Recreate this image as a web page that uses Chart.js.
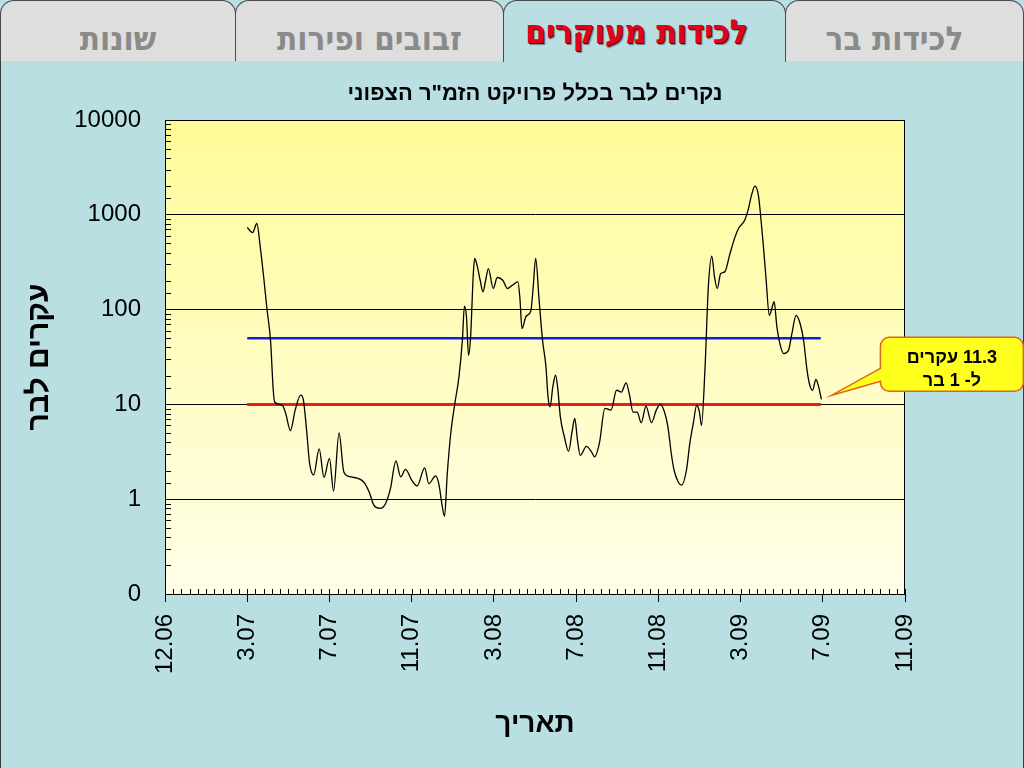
<!DOCTYPE html>
<html lang="he">
<head>
<meta charset="UTF-8">
<title>לכידות מעוקרים</title>
<script src="https://cdn.jsdelivr.net/npm/chart.js"></script>
<style>
    html, body { margin: 0; padding: 0; }
    body {
        width: 1024px; height: 768px; overflow: hidden;
        position: relative; background: #b9dfe3;
        font-family: 'Liberation Sans', Arial, sans-serif;
    }
    .tab {
        position: absolute; top: 0; height: 61px; box-sizing: border-box;
        border: 1px solid #4a4a4a; border-bottom: none;
        border-radius: 14px 14px 0 0;
        background: #dedede; color: #8a8a8a;
        text-align: center;
        font-family: 'DejaVu Sans Condensed', 'DejaVu Sans', sans-serif;
        font-weight: bold; font-size: 33px; line-height: 30px;
        padding-top: 23px;
    }
    .tab.active {
        background: #b9dfe3; color: #e4001b; height: 62px; z-index: 2;
        padding-top: 16px;
        text-shadow: 1px 1px 0 #5a0000, 2px 2px 1px rgba(0,0,0,0.4);
    }
    #panel {
        position: absolute; left: 0; top: 60px; width: 1024px; height: 708px;
        box-sizing: border-box; border: 1px solid #3a3a3a; border-bottom: none;
    }
    #wrap { position: absolute; left: 0; top: 61px; width: 1024px; height: 707px; }
</style>
</head>
<body>
    <div id="panel"></div>
    <div class="tab" style="left:0; width:236px;">שונות</div>
    <div class="tab" style="left:235px; width:269px;">זבובים ופירות</div>
    <div class="tab active" style="left:503px; width:283px; padding-right:16px;">לכידות מעוקרים</div>
    <div class="tab" style="left:785px; width:239px; padding-right:20px;">לכידות בר</div>

    <div id="wrap"><canvas id="chart" dir="rtl"></canvas></div>

    <script>
        // ימים מאז 1.12.06
        const days = [120, 128, 134, 139, 144, 149, 154, 158, 160, 171, 176, 183, 190, 198, 202, 207, 211, 217, 225, 232,
            240, 246, 254, 261, 271, 290, 298, 305, 314, 322, 329, 337, 344, 351, 360, 368, 379, 385, 395, 400,
            404, 408, 412, 417, 423, 429, 434, 437, 440, 443, 446, 450, 452, 456, 460, 464, 468, 472, 479, 485,
            493, 500, 507, 515, 518, 521, 527, 534, 537, 541, 546, 551, 556, 559, 562, 566, 570, 573, 577, 583,
            589, 594, 598, 602, 606, 615, 622, 627, 634, 642, 651, 659, 666, 673, 678, 683, 689, 695, 702, 710,
            717, 723, 729, 734, 739, 743, 749, 754, 761, 766, 771, 776, 780, 783, 788, 793, 798, 802, 806, 811,
            817, 824, 832, 837, 846, 851, 856, 861, 866, 869, 873, 877, 882, 885, 889, 893, 898, 903, 910, 915,
            921, 927, 932, 937, 941, 945, 950, 954, 958];
        // עקרים לבר
        const ratio = [735, 650, 810, 459, 221, 99, 47.5, 14.1, 10.6, 9.8, 8.1, 5.3, 8.7, 12.5, 11.1, 5.0, 2.4, 1.8, 3.4, 1.7,
            2.7, 1.22, 5.0, 1.94, 1.72, 1.52, 1.19, 0.86, 0.80, 0.90, 1.29, 2.54, 1.72, 2.06, 1.59, 1.38, 2.14, 1.46, 1.76, 1.41,
            0.90, 0.66, 1.87, 4.9, 10.2, 19.5, 47.5, 109, 84, 33, 51.5, 240, 346, 282, 204, 154, 204, 271, 167, 218,
            204, 167, 181, 196, 131, 63, 85, 97, 160, 346, 126, 47.5, 24.9, 12.0, 9.4, 15.3, 20.3, 15.3, 7.4, 4.5,
            3.2, 5.1, 7.1, 4.2, 2.9, 3.6, 3.2, 2.8, 3.9, 9.1, 8.7, 14.1, 13.5, 16.9, 12.5, 8.3, 8.3, 6.4, 9.6, 6.4,
            8.7, 10.0, 8.3, 5.8, 3.0, 2.02, 1.52, 1.41, 2.02, 3.9, 6.3, 9.8, 8.3, 6.0, 23, 174, 366, 221, 167, 240,
            250, 375, 585, 717, 877, 1119, 1610, 2004, 1610, 1032, 498, 221, 87, 99, 121, 66, 42, 34.4, 37.3, 56,
            87, 71, 47.5, 23, 16, 14.1, 18.3, 15.3, 11.3];

        // קווי יעד
        const refDays = [120, 957];
        const blueLevel = [50, 50];
        const redLevel = [10, 10];

        const xTickLabels = ['12.06', '3.07', '7.07', '11.07', '3.08', '7.08', '11.08', '3.09', '7.09', '11.09'];
        const xStep = 120, xMinorStep = 12;

        const chartTitle = 'נקרים לבר בכלל פרויקט הזמ"ר הצפוני';
        const calloutLines = ['11.3 עקרים', 'ל- 1 בר'];

        const FONT = "'Liberation Sans', Arial, sans-serif";
        Chart.defaults.font.family = FONT;
        Chart.defaults.color = '#000';

        function isDecade(v) {
            if (!v) return false;
            const l = Math.log10(v);
            return Math.abs(l - Math.round(l)) < 1e-9;
        }

        // רקע, מסגרת, שנתות משנה, כותרת ובועה
        const decor = {
            id: 'decor',
            beforeDraw(chart) {
                const { ctx, chartArea: a } = chart;
                const g = ctx.createLinearGradient(0, a.top, 0, a.bottom);
                g.addColorStop(0, '#fffb98');
                g.addColorStop(1, '#fffee9');
                ctx.save();
                ctx.fillStyle = g;
                ctx.fillRect(a.left, a.top, a.right - a.left, a.bottom - a.top);
                ctx.restore();
            },
            afterDraw(chart) {
                const { ctx, chartArea: a, scales } = chart;
                ctx.save();
                ctx.strokeStyle = '#000';
                ctx.lineWidth = 1;
                ctx.strokeRect(a.left + 0.5, a.top + 0.5, a.right - a.left - 1, a.bottom - a.top);

                ctx.beginPath();
                scales.y.ticks.forEach(t => {
                    if (isDecade(t.value)) return;
                    const py = Math.round(scales.y.getPixelForValue(t.value)) + 0.5;
                    ctx.moveTo(a.left, py);
                    ctx.lineTo(a.left + 6, py);
                });
                for (let d = 0; d <= scales.x.max; d += xMinorStep) {
                    const px = Math.round(scales.x.getPixelForValue(d)) + 0.5;
                    ctx.moveTo(px, a.bottom);
                    ctx.lineTo(px, a.bottom - 5);
                }
                ctx.stroke();

                ctx.direction = 'rtl';
                ctx.fillStyle = '#000';
                ctx.font = 'bold 22px ' + FONT;
                ctx.textAlign = 'center';
                ctx.textBaseline = 'middle';
                ctx.fillText(chartTitle, (a.left + a.right) / 2, a.top - 26);

                // בועה ליד הנקודה האחרונה
                const pts = chart.getDatasetMeta(0).data;
                const last = pts[pts.length - 1];
                const tipX = last.x + 10, tipY = last.y - 4;
                const L = tipX + 49, T = tipY - 58, W = 143, H = 54, r = 9;
                ctx.beginPath();
                ctx.moveTo(L + r, T);
                ctx.arcTo(L + W, T, L + W, T + H, r);
                ctx.arcTo(L + W, T + H, L, T + H, r);
                ctx.arcTo(L, T + H, L, T, r);
                ctx.lineTo(L, T + 44);
                ctx.lineTo(tipX, tipY);
                ctx.lineTo(L, T + 31);
                ctx.arcTo(L, T, L + W, T, r);
                ctx.closePath();
                ctx.fillStyle = '#ffff1e';
                ctx.fill();
                ctx.strokeStyle = '#e0641e';
                ctx.lineWidth = 1.5;
                ctx.stroke();
                ctx.fillStyle = '#000';
                ctx.font = 'bold 18px ' + FONT;
                ctx.fillText(calloutLines[0], L + W / 2, T + 21);
                ctx.fillText(calloutLines[1], L + W / 2, T + 44);
                ctx.restore();
            }
        };

        new Chart(document.getElementById('chart'), {
            type: 'line',
            data: {
                datasets: [
                    {
                        data: days.map((d, i) => ({ x: d, y: ratio[i] })),
                        borderColor: '#000',
                        borderWidth: 1.3,
                        pointRadius: 0,
                        cubicInterpolationMode: 'monotone',
                        order: 0
                    },
                    {
                        data: refDays.map((d, i) => ({ x: d, y: blueLevel[i] })),
                        borderColor: '#1020dc',
                        borderWidth: 2.5,
                        pointRadius: 0,
                        order: 1
                    },
                    {
                        data: refDays.map((d, i) => ({ x: d, y: redLevel[i] })),
                        borderColor: '#ec1c1c',
                        borderWidth: 3,
                        pointRadius: 0,
                        order: 1
                    }
                ]
            },
            options: {
                responsive: true,
                maintainAspectRatio: false,
                animation: false,
                layout: { padding: { left: 0, right: 119, top: 59, bottom: 0 } },
                plugins: {
                    legend: { display: false },
                    tooltip: { enabled: false },
                    title: { display: false }
                },
                scales: {
                    x: {
                        type: 'linear',
                        min: 0,
                        max: xStep * (xTickLabels.length - 1),
                        afterFit(s) { s.height = 174; },
                        ticks: {
                            stepSize: xStep,
                            autoSkip: false,
                            minRotation: 90,
                            maxRotation: 90,
                            padding: 12,
                            font: { size: 24 },
                            color: '#000',
                            callback: v => xTickLabels[Math.round(v / xStep)]
                        },
                        grid: { drawOnChartArea: false, drawTicks: true, tickLength: 8, color: '#000' },
                        border: { color: '#000' },
                        title: {
                            display: true,
                            text: 'תאריך',
                            font: { size: 28, weight: 'bold' },
                            color: '#000',
                            padding: { top: 0, bottom: 27 }
                        }
                    },
                    y: {
                        type: 'logarithmic',
                        min: 0.1,
                        max: 10000,
                        afterFit(s) { s.width = 165; },
                        ticks: {
                            autoSkip: false,
                            padding: 24,
                            font: { size: 24 },
                            color: '#000',
                            callback: v => isDecade(v) ? (v < 1 ? '0' : String(Math.round(v))) : ''
                        },
                        grid: {
                            drawTicks: false,
                            color: c => (c.tick && isDecade(c.tick.value)) ? '#000' : 'rgba(0,0,0,0)'
                        },
                        border: { color: '#000' },
                        title: {
                            display: true,
                            text: 'עקרים לבר',
                            font: { size: 30, weight: 'bold' },
                            color: '#000',
                            padding: { top: 22, bottom: 0 }
                        }
                    }
                }
            },
            plugins: [decor]
        });
    </script>
</body>
</html>
